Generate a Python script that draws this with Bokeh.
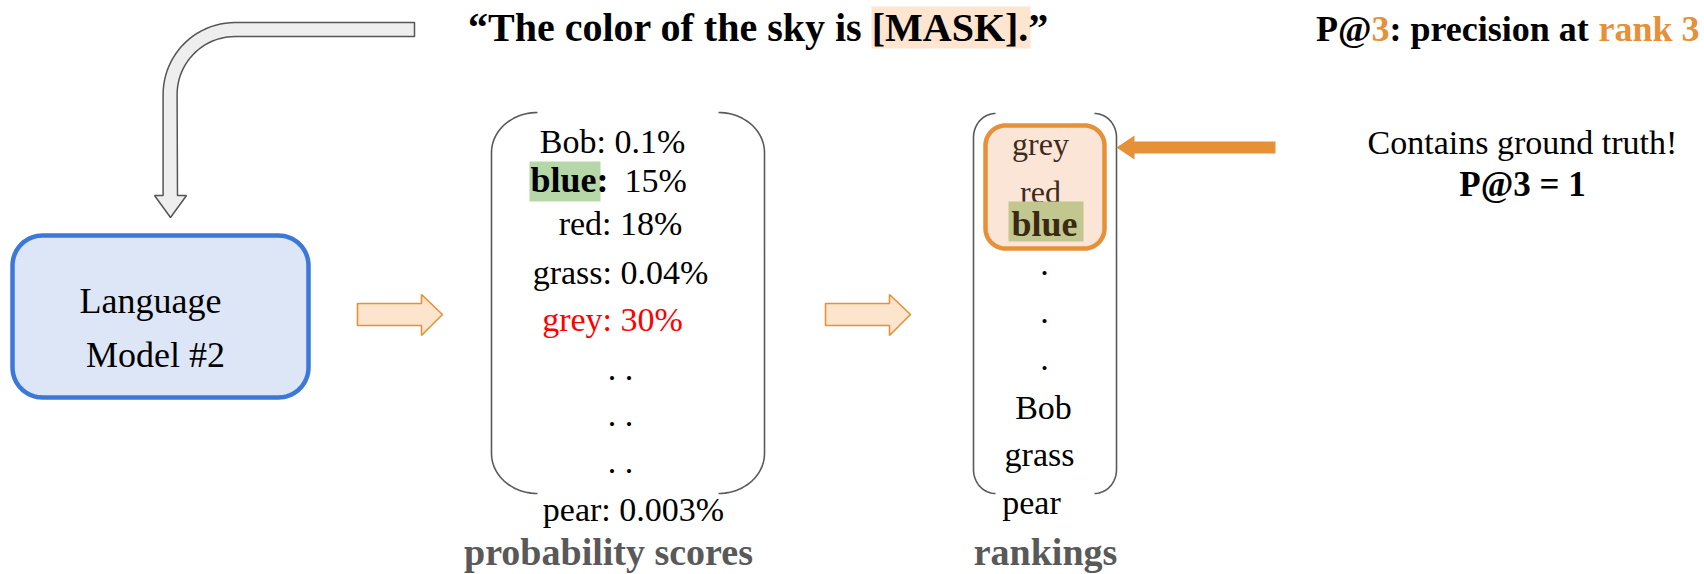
import numpy as np
from bokeh.plotting import figure
from bokeh.models import Range1d
from bokeh.core.properties import value
from bokeh.embed import file_html
from bokeh.resources import INLINE

# ---------------- data (texts of the diagram) ----------------
title_text = "\u201cThe color of the sky is [MASK].\u201d"
model_lines = ["Language", "Model #2"]
prob_words = ["Bob", "blue", "red", "grass", "grey", "pear"]
prob_values = ["0.1%", "15%", "18%", "0.04%", "30%", "0.003%"]
rank_words = ["grey", "red", "blue", "Bob", "grass", "pear"]
metric_parts = ["P@", "3", ": precision at", "rank 3"]
result_lines = ["Contains ground truth!", "P@3 = 1"]
captions = ["probability scores", "rankings"]

SERIF = value("Liberation Serif")
W, H = 1704, 574
p = figure(width=W, height=H, x_range=Range1d(0, W), y_range=Range1d(H, 0),
           output_backend="svg", toolbar_location=None, min_border=0,
           x_axis_location=None, y_axis_location=None)
p.grid.visible = False
p.outline_line_color = None
p.background_fill_color = "white"
p.border_fill_color = "white"

BASE_SHIFT = 0.32  # compensation of the renderer's baseline placement


def txt(x, y, s, size, color="black", bold=False, align="center"):
    p.text(x=[x], y=[y - BASE_SHIFT * size], text=[s], text_font=SERIF,
           text_font_size=f"{size}px",
           text_font_style="bold" if bold else "normal", text_color=color,
           text_align=align, text_baseline="alphabetic")


def rrect(x0, y0, x1, y1, r, n=18):
    xs, ys = [], []
    for cx, cy, a0, a1 in [(x1 - r, y0 + r, -90, 0), (x1 - r, y1 - r, 0, 90),
                           (x0 + r, y1 - r, 90, 180), (x0 + r, y0 + r, 180, 270)]:
        t = np.radians(np.linspace(a0, a1, n))
        xs += list(cx + r * np.cos(t))
        ys += list(cy + r * np.sin(t))
    return xs, ys


def arc(cx, cy, rx, ry, a0, a1, n=24):
    t = np.radians(np.linspace(a0, a1, n))
    return list(cx + rx * np.cos(t)), list(cy + ry * np.sin(t))


def bracket(xl, xr, yt, yb, rx, ry, color="#595959"):
    x1, y1 = arc(xl + rx, yt + ry, rx, ry, 270, 180)
    x2, y2 = arc(xl + rx, yb - ry, rx, ry, 180, 90)
    p.line(x1 + x2, y1 + y2, line_color=color, line_width=1.6)
    x1, y1 = arc(xr - rx, yt + ry, rx, ry, 270, 360)
    x2, y2 = arc(xr - rx, yb - ry, rx, ry, 0, 90)
    p.line(x1 + x2, y1 + y2, line_color=color, line_width=1.6)


# ---------------- gray bent arrow ----------------
R, ri = 72, 58
ox, ix = 162.6, 177
cx, cy = ox + R, 22 + R
ax1, ay1 = arc(cx, cy, R, R, 270, 180)
ax2, ay2 = arc(cx, cy, ri, ri, 180, 270)
gx = [414] + ax1 + [ox, 154, 170, 186, ix] + ax2 + [414]
gy = [22] + ay1 + [195, 195, 217, 195, 195] + ay2 + [36]
p.patch(gx, gy, fill_color="#eeeeee", line_color="#555555", line_width=1.5)

# ---------------- title ----------------
p.quad(left=[871], right=[1030], top=[6], bottom=[48], fill_color="#fde5d0", line_color=None)
txt(758, 40, title_text, 40, bold=True)

# ---------------- language model box ----------------
bx, by = rrect(12, 235, 308, 397, 30)
p.patch(bx, by, fill_color="#dce6f7", line_color="#3c78d8", line_width=4.5)
txt(150, 312, model_lines[0], 36)
txt(155, 366, model_lines[1], 36)

# ---------------- orange block arrows ----------------
for x0 in (357, 825):
    xs = [x0, x0 + 64, x0 + 64, x0 + 85, x0 + 64, x0 + 64, x0]
    ys = [303, 303, 294, 314, 335, 325, 325]
    p.patch(xs, ys, fill_color="#fde4cc", line_color="#e69138", line_width=1.6)

# ---------------- probability scores ----------------
bracket(491, 764, 112, 493, 46, 40)
txt(612, 152, f"{prob_words[0]}: {prob_values[0]}", 34)
p.quad(left=[529], right=[600], top=[161], bottom=[201], fill_color="#b6d7a8", line_color=None)
txt(530, 191, f"{prob_words[1]}:", 36, bold=True, align="left")
txt(624, 191, prob_values[1], 34, align="left")
txt(620, 234, f"{prob_words[2]}: {prob_values[2]}", 34)
txt(620, 283, f"{prob_words[3]}: {prob_values[3]}", 34)
txt(612, 330, f"{prob_words[4]}: {prob_values[4]}", 34, color="#ff0000")
for yy in (379, 425, 472):
    txt(620, yy, ". .", 34)
txt(633, 520, f"{prob_words[5]}: {prob_values[5]}", 34)
txt(608, 564, captions[0], 38, color="#595959", bold=True)

# ---------------- rankings ----------------
bracket(973, 1116, 113, 493, 22, 24)
ox_, oy_ = rrect(985, 125, 1104, 248, 20)
p.patch(ox_, oy_, fill_color="#fbe5d6", line_color=None)
txt(1040, 154, rank_words[0], 32, color="#3d2b1c")
txt(1040, 202, rank_words[1], 32, color="#3d2b1c")
p.quad(left=[1008], right=[1083], top=[201], bottom=[241], fill_color="#c2c78f", line_color=None)
txt(1044, 235, rank_words[2], 36, color="#3a2a12", bold=True)
p.patch(ox_, oy_, fill_color=None, line_color="#e69138", line_width=4.5)
for yy in (274, 322, 369):
    txt(1044, yy, ".", 34)
txt(1043, 418, rank_words[3], 34)
txt(1039, 465, rank_words[4], 34)
txt(1031, 513, rank_words[5], 34)
txt(1045, 564, captions[1], 38, color="#595959", bold=True)

# ---------------- orange pointer arrow ----------------
p.patch([1275, 1134, 1134, 1116, 1134, 1134, 1275],
        [141, 141, 135, 147, 159, 153, 153], fill_color="#e69138", line_color=None)

# ---------------- metric header ----------------
S = 36
wts = [1.541, 0.5, 5.805, 2.806]
start = 1699 - sum(wts) * S
cols = ["black", "#e69138", "black", "#e69138"]
xpos = start
for part, wt, col in zip(metric_parts, wts, cols):
    txt(xpos, 40, part, S, color=col, bold=True, align="left")
    xpos += wt * S

txt(1522, 153, result_lines[0], 34)
txt(1522, 195, result_lines[1], 35, bold=True)

open("out.html", "w").write(file_html(p, INLINE))
